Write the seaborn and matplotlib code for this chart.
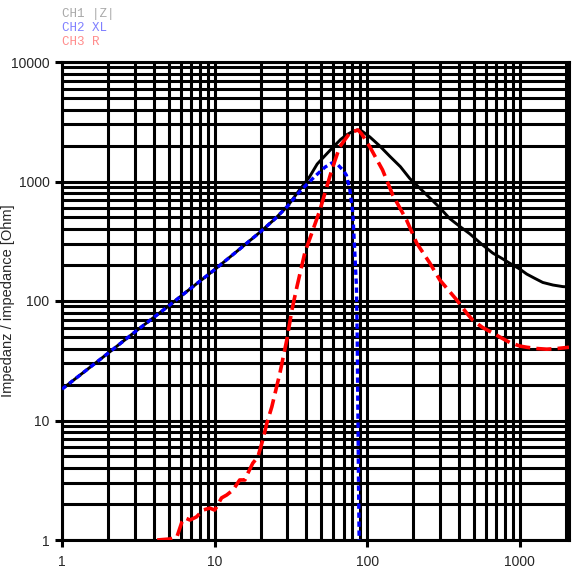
import matplotlib
matplotlib.use("Agg")
import matplotlib.pyplot as plt
import matplotlib.ticker as mticker
import seaborn as sns
import pandas as pd

# |Z| (CH1)
z_freq = [1, 2, 3, 5, 7, 10, 15, 20, 25, 30, 36, 42, 47, 53, 60, 67, 73, 80, 86, 92,
          104, 120, 141, 165, 190, 225, 257, 300, 347, 400, 470, 560, 664, 760, 859,
          1000, 1110, 1250, 1413, 1650, 1910, 2100]
z_vals = [18.3, 36.5, 55, 91, 128, 183, 280, 380, 490, 620, 850, 1100, 1400, 1650, 1950,
          2250, 2450, 2620, 2700, 2650, 2360, 2000, 1620, 1330, 1060, 860, 730, 600, 490,
          425, 365, 300, 252, 228, 207, 185, 168, 155, 143, 136, 132, 131]

# XL (CH2)
xl_freq = [1, 2, 3, 5, 7, 10, 15, 20, 25, 30, 36, 42, 47, 53, 58.6, 63, 66, 70, 73, 77,
           80.5, 83, 85, 86, 86.5, 87, 87.7, 88.5]
xl_vals = [18.3, 36.5, 55, 91, 128, 183, 280, 380, 490, 620, 820, 1000, 1150, 1320, 1430,
           1420, 1330, 1230, 1130, 850, 545, 250, 131, 50, 20, 10, 3, 1.0]

# R (CH3)
r_freq = [4.2, 5.1, 5.66, 6.1, 6.4, 6.9, 7.6, 8.4, 9.3, 10.0, 10.3, 11.1, 12.0, 13.2, 14.6,
          15.8, 16.3, 17.8, 19.2, 20.7, 22, 23.7, 26.8, 29.7, 32.1, 34.6, 39, 43, 49, 58.6,
          66, 77, 87, 92, 104, 126, 147, 181, 211, 257, 299, 386, 449, 492, 570, 664, 760,
          859, 1000, 1110, 1300, 1500, 1750, 2100]
r_vals = [1.0, 1.02, 1.06, 1.41, 1.53, 1.47, 1.56, 1.78, 1.85, 1.78, 1.89, 2.25, 2.38, 2.62,
          3.18, 3.18, 3.5, 4.4, 4.95, 6.9, 9.5, 13, 25, 47, 84, 131, 253, 360, 577, 1250,
          1950, 2550, 2700, 2500, 1950, 1250, 770, 476, 305, 208, 150, 102, 79, 69, 60, 54,
          49, 45, 42, 41, 40, 39.5, 40, 41]

legend_labels = ["CH1 |Z|", "CH2 XL", "CH3 R"]
legend_colors = ["#a8a8a8", "#8080ff", "#ff8c8c"]
x_ticks = [1, 10, 100, 1000]
y_ticks = [1, 10, 100, 1000, 10000]
y_label = "Impedanz / impedance [Ohm]"

sns.set_style("white")
plt.rcParams["font.family"] = ["Liberation Sans", "DejaVu Sans"]

fig = plt.figure(figsize=(5.73, 5.69), dpi=100)
ax = fig.add_axes([62 / 573, 29 / 569, 507 / 573, 478 / 569])

df_z = pd.DataFrame({"f": z_freq, "v": z_vals})
df_xl = pd.DataFrame({"f": xl_freq, "v": xl_vals})
df_r = pd.DataFrame({"f": r_freq, "v": r_vals})

sns.lineplot(data=df_z, x="f", y="v", ax=ax, color="black", lw=2.1,
             sort=False, estimator=None, zorder=5)
sns.lineplot(data=df_xl, x="f", y="v", ax=ax, color="#0000ff", lw=2.4,
             sort=False, estimator=None, zorder=6, dashes=False)
sns.lineplot(data=df_r, x="f", y="v", ax=ax, color="#ff0000", lw=2.6,
             sort=False, estimator=None, zorder=7, dashes=False)
ax.lines[1].set_dashes((1.6, 1.1))
ax.lines[2].set_dashes((4.2, 1.7))

ax.set_xscale("log")
ax.set_yscale("log")
ax.set_xlim(1, 2100)
ax.set_ylim(1, 10000)

ax.xaxis.set_major_locator(mticker.FixedLocator(x_ticks))
ax.yaxis.set_major_locator(mticker.FixedLocator(y_ticks))
ax.xaxis.set_minor_locator(mticker.LogLocator(base=10, subs=range(2, 10), numticks=20))
ax.yaxis.set_minor_locator(mticker.LogLocator(base=10, subs=range(2, 10), numticks=20))
fmt = mticker.FuncFormatter(lambda v, p: f"{v:g}")
ax.xaxis.set_major_formatter(fmt)
ax.yaxis.set_major_formatter(fmt)
ax.xaxis.set_minor_formatter(mticker.NullFormatter())
ax.yaxis.set_minor_formatter(mticker.NullFormatter())

ax.grid(True, which="both", color="black", lw=2.2)
ax.set_axisbelow(True)
for s in ax.spines.values():
    s.set_color("black")
    s.set_linewidth(2.2)

ax.tick_params(axis="both", which="major", direction="out", length=5, width=2.2,
               color="black", labelsize=10, bottom=True, left=True)
ax.tick_params(axis="x", which="major", pad=6)
ax.tick_params(axis="y", which="major", pad=4)
ax.tick_params(axis="both", which="minor", length=0)

ax.set_xlabel("")
ax.set_ylabel(y_label, fontsize=10.5)
ax.yaxis.set_label_coords(-0.093, 0.5)

for i, (lab, col) in enumerate(zip(legend_labels, legend_colors)):
    fig.text(62 / 573, 1 - (14 + 14 * i) / 569, lab, color=col, fontsize=9,
             family=["Liberation Mono", "DejaVu Sans Mono"], va="center", ha="left")

fig.savefig("out.png", dpi=100)
